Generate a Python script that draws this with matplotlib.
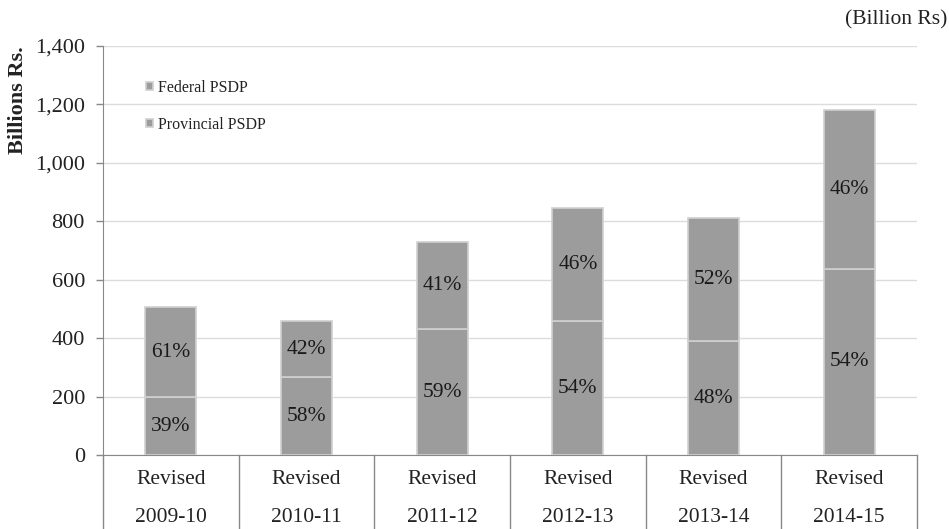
import matplotlib
matplotlib.use("Agg")
import matplotlib.pyplot as plt
import matplotlib.transforms as mtransforms
import numpy as np

# ---- data ----
categories = ["2009-10", "2010-11", "2011-12", "2012-13", "2013-14", "2014-15"]
category_prefix = "Revised"
federal_psdp = [198, 266, 430, 457, 390, 638]
provincial_psdp = [309, 193, 299, 390, 422, 544]
series_names = ["Federal PSDP", "Provincial PSDP"]
yticks = [0, 200, 400, 600, 800, 1000, 1200, 1400]

plt.rcParams['font.family'] = ['Liberation Serif', 'DejaVu Serif']

fig = plt.figure(figsize=(9.49, 5.29), dpi=100)
ax = fig.add_axes([103/949, 1-455/529, 814/949, 409/529])

x = np.arange(len(categories))
fed = np.array(federal_psdp, dtype=float)
prov = np.array(provincial_psdp, dtype=float)
total = fed + prov

bar_color = '#9c9c9c'
edge_color = '#d0d0d0'
w = 0.375
b1 = ax.bar(x, fed, width=w, color=bar_color, edgecolor=edge_color, linewidth=1.2,
            label=series_names[0], zorder=3)
b2 = ax.bar(x, prov, width=w, bottom=fed, color=bar_color, edgecolor=edge_color,
            linewidth=1.2, label=series_names[1], zorder=3)

for i in range(len(categories)):
    pf = round(100 * fed[i] / total[i])
    pp = round(100 * prov[i] / total[i])
    ax.text(x[i], fed[i] / 2, f"{pf}%", ha='center', va='center', fontsize=15.5,
            color='#1a1a1a', zorder=4)
    ax.text(x[i], fed[i] + prov[i] / 2, f"{pp}%", ha='center', va='center',
            fontsize=15.5, color='#1a1a1a', zorder=4)

ax.set_xlim(-0.5, len(categories) - 0.5)
ax.set_ylim(0, 1400)
ax.set_yticks(yticks)
ax.set_yticklabels([f"{v:,}" for v in yticks], fontsize=16, color='#222222')
ax.yaxis.grid(True, color='#dcdcdc', linewidth=1, zorder=0)
ax.set_axisbelow(True)
ax.tick_params(axis='y', direction='out', length=5, color='#888888', width=1, pad=8)
ax.set_xticks([])
for s in ['top', 'right']:
    ax.spines[s].set_visible(False)
ax.spines['left'].set_color('#888888')
ax.spines['bottom'].set_color('#888888')

# category table below axis
trans = mtransforms.blended_transform_factory(ax.transData, ax.transAxes)
ybot = -(529 - 455) / 409 - 0.02
for b in np.arange(-0.5, len(categories), 1.0):
    ax.plot([b, b], [0, ybot], transform=trans, color='#888888', lw=1, clip_on=False)
for i, c in enumerate(categories):
    ax.text(x[i], -25 / 409, category_prefix, transform=trans, ha='center', va='center',
            fontsize=15.5, color='#222222')
    ax.text(x[i], -62 / 409, c, transform=trans, ha='center', va='center',
            fontsize=15.5, color='#222222')

# legend
leg = ax.legend(loc='upper left', bbox_to_anchor=(0.045, 0.933), frameon=False,
                fontsize=11.5, handlelength=0.45, handleheight=0.45, handletextpad=0.3,
                labelspacing=1.3, borderaxespad=0)
for t in leg.get_texts():
    t.set_color('#222222')

fig.text(18/949, 1 - 100/529, "Billions Rs.", rotation=90, ha='center', va='center',
         fontsize=16, fontweight='bold', color='#222222')
fig.text(947/949, 1 - 20/529, "(Billion Rs)", ha='right', va='center', fontsize=15.5,
         color='#222222')

fig.savefig("out.png", dpi=100)
